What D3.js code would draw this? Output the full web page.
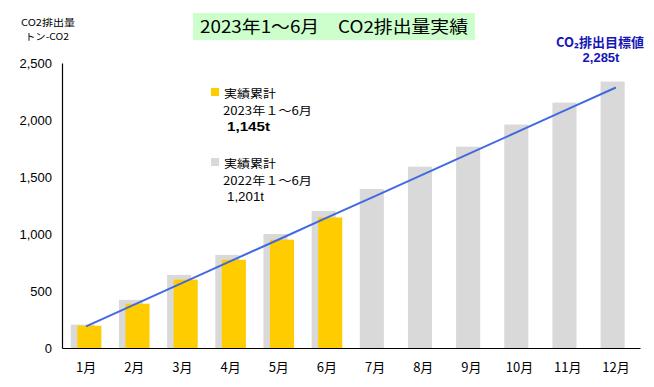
<!DOCTYPE html>
<html><head><meta charset="utf-8">
<script src="https://cdn.jsdelivr.net/npm/d3@7"></script>
<style>
html,body{margin:0;padding:0;background:#fff;}
text{font-family:"Noto Sans CJK JP","Noto Sans",sans-serif;}
</style></head>
<body><svg id="c" width="654" height="387"></svg>
<script>
const months = ["1月","2月","3月","4月","5月","6月","7月","8月","9月","10月","11月","12月"];
const actual2022 = [205, 422, 641, 817, 1000, 1201, 1395, 1590, 1766, 1960, 2153, 2337];
const actual2023 = [195, 388, 600, 774, 950, 1145, null, null, null, null, null, null];
const targetLine = [190, 381, 571, 762, 952, 1143, 1333, 1523, 1714, 1904, 2095, 2285];
const yTicks = [0, 500, 1000, 1500, 2000, 2500];

const svg = d3.select("#c");
const x = d3.scaleBand().domain(months).range([62, 640]).paddingInner(0).paddingOuter(0);
const y = d3.scaleLinear().domain([0, 2500]).range([348, 63]);
const bw = x.bandwidth() * 0.5;
const off = x.bandwidth() * 0.068;

// title
svg.append("rect").attr("x", 193).attr("y", 13).attr("width", 282).attr("height", 27).attr("fill", "#CCFFCC");
svg.append("text").attr("x", 334).attr("y", 33).attr("text-anchor", "middle")
  .attr("font-size", 17).attr("fill", "#000")
  .attr("textLength", 268).attr("lengthAdjust", "spacingAndGlyphs")
  .text("2023年1～6月　CO2排出量実績");

// y unit
svg.append("text").attr("x", 48).attr("y", 26).attr("text-anchor", "middle").attr("font-size", 9.5)
  .attr("textLength", 54).attr("lengthAdjust", "spacingAndGlyphs").text("CO2排出量");
svg.append("text").attr("x", 47).attr("y", 40).attr("text-anchor", "middle").attr("font-size", 9.5)
  .attr("textLength", 44).attr("lengthAdjust", "spacingAndGlyphs").text("トン-CO2");

// bars 2022
svg.append("g").selectAll("rect").data(months).join("rect")
  .attr("x", (d) => x(d) + x.bandwidth()/2 - bw/2 - off)
  .attr("y", (d, i) => y(actual2022[i]))
  .attr("width", bw)
  .attr("height", (d, i) => y(0) - y(actual2022[i]))
  .attr("fill", "#D9D9D9");

// bars 2023
svg.append("g").selectAll("rect").data(months.filter((d, i) => actual2023[i] != null)).join("rect")
  .attr("x", (d) => x(d) + x.bandwidth()/2 - bw/2 + off)
  .attr("y", (d, i) => y(actual2023[i]))
  .attr("width", bw)
  .attr("height", (d, i) => y(0) - y(actual2023[i]))
  .attr("fill", "#FFCC00");

// target line
const line = d3.line().x((d, i) => x(months[i]) + x.bandwidth()/2).y((d) => y(d));
svg.append("path").datum(targetLine).attr("d", line).attr("fill", "none")
  .attr("stroke", "#4169E1").attr("stroke-width", 2);

// axes
const yAxis = svg.append("g").attr("transform", "translate(62,0)")
  .call(d3.axisLeft(y).tickValues(yTicks).tickSize(0).tickPadding(10).tickFormat(d3.format(",")));
yAxis.select(".domain").attr("stroke", "#000").attr("stroke-width", 1.2);
yAxis.selectAll("text").attr("font-size", 13).attr("fill", "#000")
  .style("font-family", "'Liberation Sans', Arial, sans-serif");

const xAxis = svg.append("g").attr("transform", "translate(0,348)")
  .call(d3.axisBottom(x).tickSize(0).tickPadding(15));
xAxis.select(".domain").attr("stroke", "#000").attr("stroke-width", 1.2);
xAxis.selectAll("text").attr("font-size", 13).attr("fill", "#000");

// legend
function legend(yy, color, l1, l2, l3, bold, w3) {
  svg.append("rect").attr("x", 211).attr("y", yy - 10).attr("width", 8).attr("height", 8).attr("fill", color);
  svg.append("text").attr("x", 224).attr("y", yy).attr("font-size", 11.5)
    .attr("textLength", 52).attr("lengthAdjust", "spacingAndGlyphs").text(l1);
  svg.append("text").attr("x", 223).attr("y", yy + 16.5).attr("font-size", 11.5)
    .attr("textLength", 89).attr("lengthAdjust", "spacingAndGlyphs").text(l2);
  svg.append("text").attr("x", 227).attr("y", yy + 33).attr("font-size", 12.5)
    .attr("font-weight", bold ? "bold" : "normal")
    .attr("textLength", w3).attr("lengthAdjust", "spacingAndGlyphs")
    .style("font-family", "'Liberation Sans', Arial, sans-serif").text(l3);
}
legend(98, "#FFCC00", "実績累計", "2023年１～6月", "1,145t", true, 43);
legend(168, "#D9D9D9", "実績累計", "2022年１～6月", "1,201t", false, 37);

// target annotation
svg.append("text").attr("x", 600).attr("y", 47).attr("text-anchor", "middle").attr("font-size", 13)
  .attr("font-weight", "bold").attr("fill", "#1515B5").text("CO₂排出目標値");
svg.append("text").attr("x", 601).attr("y", 62).attr("text-anchor", "middle").attr("font-size", 13)
  .attr("font-weight", "bold").attr("fill", "#1515B5")
  .style("font-family", "'Liberation Sans', Arial, sans-serif").text("2,285t");
</script></body></html>
